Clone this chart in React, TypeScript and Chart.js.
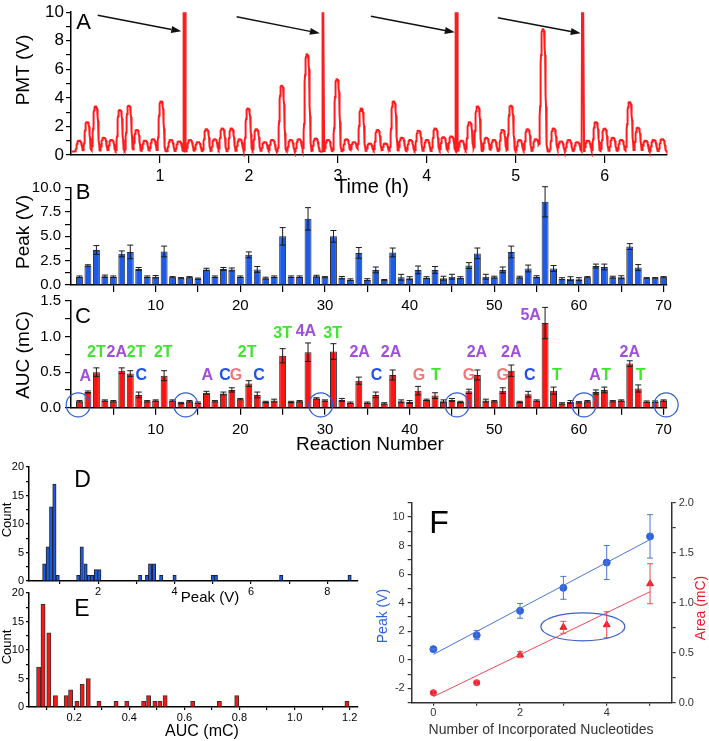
import React, { useEffect, useRef } from 'react';
import { Chart, registerables } from 'chart.js';
Chart.register(...registerables);

const FONT = '"Liberation Sans", Arial, Helvetica, sans-serif';

// ---------- Panel A: PMT trace ----------
const peakTimes = [0.093,0.183,0.278,0.371,0.457,0.551,0.652,0.742,0.835,0.925,1.015,1.124,1.217,
  1.340,1.430,1.525,1.618,1.704,1.806,1.899,1.992,2.087,2.180,2.266,2.371,2.472,2.565,2.655,2.753,
  2.891,2.992,3.098,3.183,3.266,3.360,3.449,3.536,3.629,3.722,3.817,3.910,4.003,4.098,4.188,4.278,
  4.393,4.483,4.573,4.671,4.756,4.854,4.947,5.045,5.135,5.228,5.307,5.427,5.509,5.599,5.693,
  5.812,5.902,6.000,6.093,6.188,6.281,6.374,6.461,6.553,6.648];
const peakHeightsA = [1.0,2.3,3.4,1.2,1.05,3.15,3.45,1.75,1.0,1.1,3.75,1.05,0.95,
  1.05,0.9,1.8,1.1,1.85,1.85,1.1,3.25,1.8,0.9,1.05,4.85,1.05,1.1,7.05,1.15,
  1.05,5.3,1.1,0.9,3.25,0.8,1.75,0.8,3.75,1.2,1.05,1.7,1.05,1.85,1.25,1.3,
  1.0,2.3,3.4,1.2,1.05,1.75,3.45,1.05,1.8,1.1,8.8,1.85,0.95,1.05,0.9,
  1.0,2.3,1.85,1.2,1.05,3.7,1.9,1.0,1.05,1.1];
const spikeTimes = [1.273, 2.835, 4.334, 5.756];
const baselineV = 0.25;
const arrowTailT = [0.30, 1.862, 3.371, 4.798];
const arrowTailV = [9.78, 9.68, 9.72, 9.61];
const arrowHeadT = [1.24, 2.798, 4.315, 5.73];
const arrowHeadV = [8.66, 8.52, 8.59, 8.52];
const timeTicks = [1, 2, 3, 4, 5, 6];

// ---------- Panels B, C ----------
const reactions = Array.from({ length: 70 }, (_, i) => i + 1);
const peakV = [0.85,2.0,3.6,0.9,0.85,3.2,3.4,1.65,0.85,0.85, 3.45,0.8,0.7,0.8,0.65,1.6,0.85,1.65,1.6,0.85,
  3.1,1.6,0.7,0.85,5.0,0.85,0.85,6.8,0.9,0.8, 5.0,0.75,0.55,3.3,0.55,1.55,0.5,3.35,0.8,0.7,
  1.55,0.75,1.55,0.7,0.85,0.75,2.0,3.25,0.85,0.8, 1.55,3.4,0.8,1.7,0.85,8.55,1.7,0.65,0.65,0.6,
  0.8,1.95,1.85,0.8,0.8,3.95,1.8,0.7,0.7,0.8];
const peakErr = [0.08,0.08,0.45,0.12,0.08,0.3,0.7,0.15,0.08,0.12, 0.55,0.06,0.06,0.06,0.06,0.12,0.08,0.15,0.15,0.08,
  0.3,0.3,0.1,0.08,0.9,0.08,0.08,1.15,0.1,0.06, 0.6,0.12,0.08,0.55,0.1,0.3,0.06,0.45,0.3,0.15,
  0.4,0.1,0.35,0.2,0.25,0.1,0.3,0.55,0.25,0.1, 0.3,0.6,0.1,0.35,0.1,1.55,0.3,0.1,0.2,0.15,
  0.06,0.2,0.3,0.1,0.15,0.3,0.3,0.06,0.06,0.06];
const aucC = [0.09,0.22,0.5,0.1,0.09,0.52,0.48,0.18,0.09,0.1, 0.45,0.1,0.065,0.09,0.07,0.21,0.09,0.2,0.25,0.12,
  0.34,0.18,0.08,0.1,0.73,0.08,0.09,0.78,0.13,0.1, 0.79,0.11,0.07,0.38,0.07,0.18,0.06,0.46,0.09,0.08,
  0.24,0.11,0.17,0.09,0.11,0.08,0.23,0.46,0.1,0.09, 0.24,0.52,0.08,0.19,0.1,1.19,0.24,0.06,0.08,0.075,
  0.09,0.22,0.25,0.09,0.1,0.62,0.27,0.085,0.085,0.1];
const aucErr = [0.01,0.015,0.06,0.01,0.01,0.04,0.04,0.04,0.01,0.01, 0.07,0.01,0.01,0.01,0.01,0.02,0.01,0.02,0.03,0.01,
  0.04,0.04,0.01,0.02,0.1,0.01,0.01,0.13,0.01,0.01, 0.11,0.02,0.01,0.05,0.01,0.04,0.01,0.07,0.02,0.02,
  0.06,0.01,0.04,0.02,0.02,0.01,0.03,0.07,0.02,0.01, 0.04,0.08,0.01,0.04,0.01,0.22,0.05,0.01,0.02,0.01,
  0.01,0.03,0.04,0.01,0.01,0.04,0.05,0.01,0.01,0.01];
const baseLabelRx = [1.7,3.0,5.4,7.7,8.3,10.9,16.1,18.2,19.5,20.8,22.2,25,27.75,30.9,34.1,36.1,37.8,41.1,43.1,47,47.95,51,52,54.2,54.3,57.4,61.9,63.2,66,67.3];
const baseLabelText = ['A','2T','2A','2T','C','2T','A','C','G','2T','C','3T','4A','3T','2A','C','2A','G','T','G','2A','G','2A','C','5A','T','A','T','2A','T'];
const baseLabelY = [0.44,0.77,0.77,0.77,0.45,0.77,0.45,0.45,0.45,0.77,0.45,1.04,1.07,1.04,0.77,0.45,0.77,0.45,0.45,0.45,0.77,0.45,0.77,0.45,1.3,0.45,0.45,0.45,0.77,0.45];
const circleRx = [0.85, 13.55, 29.5, 45.6, 60.6, 70.3];
const circleV = 0.04;
const baseColors: Record<string, string> = { A: '#a04fdc', T: '#3ee62e', C: '#1f52e6', G: '#f27878' };

// ---------- Panels D, E (histograms) ----------
const peakBins = [0.59,0.68,0.77,0.855,0.94,1.48,1.57,1.67,1.76,1.84,1.94,2.03,3.1,3.28,3.36,3.46,3.65,4.0,5.0,5.08,6.79,8.58];
const peakCounts = [3,6,13,17,1,1,6,3,1,1,2,2,1,1,3,3,1,1,1,1,1,1];
const aucBins = [0.071,0.087,0.108,0.132,0.171,0.187,0.21,0.229,0.251,0.29,0.352,0.391,0.452,0.47,0.493,0.511,0.53,0.63,0.727,0.79,1.19];
const aucCounts = [7,18,13,2,2,3,1,4,5,1,1,1,1,2,1,1,2,1,1,2,1];

// ---------- Panel F ----------
const nucleotides = [0, 1, 2, 3, 4, 5];
const fPeak = [0.75, 1.73, 3.43, 5.04, 6.81, 8.64];
const fPeakErr = [0.05, 0.32, 0.52, 0.8, 1.19, 1.52];
const fArea = [0.1, 0.2, 0.48, 0.754, 0.78, 1.19];
const fAreaErr = [0.02, 0.02, 0.03, 0.06, 0.13, 0.2];
const fitX = [0, 5];
const fitPeak = [0.38, 8.42];
const fitArea = [0.06, 1.11];
const ellipseCenter = [3.45, 2.31];

// ---------- helpers ----------
type TextItem = { t: string; x: number; y: number; size: number; color?: string; bold?: boolean; rot?: number };
const ROT = -Math.PI / 2;

function textPlugin(items: TextItem[], left: number, top: number) {
  return {
    id: 'pageTexts',
    afterDraw(chart: any) {
      const ctx = chart.ctx as CanvasRenderingContext2D;
      items.forEach((it) => {
        ctx.save();
        ctx.translate(it.x - left, it.y - top);
        if (it.rot) ctx.rotate(it.rot);
        ctx.font = `${it.bold ? 'bold ' : ''}${it.size}px ${FONT}`;
        ctx.fillStyle = it.color || '#000';
        ctx.textAlign = 'center';
        ctx.textBaseline = 'middle';
        ctx.fillText(it.t, 0, 0);
        ctx.restore();
      });
    },
  };
}

const errorBarPlugin = {
  id: 'errbars',
  afterDatasetsDraw(chart: any) {
    const ctx = chart.ctx as CanvasRenderingContext2D;
    chart.data.datasets.forEach((ds: any, di: number) => {
      if (!ds.errors) return;
      const meta = chart.getDatasetMeta(di);
      const ys = chart.scales[meta.yAxisID];
      meta.data.forEach((el: any, i: number) => {
        const e = ds.errors[i];
        if (!e) return;
        const d = ds.data[i];
        const v = typeof d === 'number' ? d : d.y;
        const x = el.x;
        const yt = ys.getPixelForValue(v + e);
        const yb = ys.getPixelForValue(Math.max(v - e, ys.min));
        const cap = ds.errorCap || 3;
        ctx.save();
        ctx.strokeStyle = ds.errorColor || '#222';
        ctx.lineWidth = 1;
        ctx.beginPath();
        ctx.moveTo(x, yt); ctx.lineTo(x, yb);
        ctx.moveTo(x - cap, yt); ctx.lineTo(x + cap, yt);
        ctx.moveTo(x - cap, yb); ctx.lineTo(x + cap, yb);
        ctx.stroke();
        ctx.restore();
      });
    });
  },
};

const range = (a: number, b: number, step: number) => {
  const out: number[] = [];
  const n = Math.round((b - a) / step);
  for (let k = 0; k <= n; k++) out.push(Math.round((a + k * step) * 10000) / 10000);
  return out;
};
const isMult = (v: number, m: number) => Math.abs(v / m - Math.round(v / m)) < 1e-6;

function axis(o: { pos: string; min: number; max: number; ticks: number[]; label: (v: number) => string; size: number; tickLen: number; pad: number; color?: string; w?: number; h?: number }) {
  const color = o.color || '#000';
  return {
    type: 'linear',
    position: o.pos,
    min: o.min,
    max: o.max,
    offset: false,
    afterBuildTicks: (s: any) => { s.ticks = o.ticks.map((v) => ({ value: v })); },
    afterFit: (s: any) => {
      if (o.w !== undefined) s.width = o.w;
      if (o.h !== undefined) s.height = o.h;
    },
    border: { display: true, color, width: 1.5 },
    grid: { display: true, drawOnChartArea: false, drawTicks: true, tickLength: o.tickLen, color, lineWidth: 1.2, offset: false },
    ticks: { color, font: { family: FONT, size: o.size }, padding: o.pad, autoSkip: false, maxRotation: 0, minRotation: 0, callback: (v: any) => o.label(Number(v)) },
  };
}

const baseOpts = (padding: any) => ({
  animation: false,
  responsive: false,
  maintainAspectRatio: false,
  events: [],
  layout: { padding },
  plugins: { legend: { display: false }, tooltip: { enabled: false } },
});

// ---------- builders ----------
function buildA(left: number, top: number) {
  const W = 0.033;
  const trace: { x: number; y: number }[] = [];
  for (let k = 0; k <= 3350; k++) {
    const t = k * 0.002;
    let y = baselineV;
    peakTimes.forEach((pt, i) => {
      const d = (t - pt) / W;
      if (Math.abs(d) < 3) y += (peakHeightsA[i] - baselineV) * Math.exp(-d * d * d * d);
    });
    if (spikeTimes.some((s) => Math.abs(t - s) <= 0.0105)) y = 12;
    trace.push({ x: t, y });
  }
  const arrowPlugin = {
    id: 'arrows',
    afterDatasetsDraw(chart: any) {
      const xs = chart.scales.x, ys = chart.scales.y;
      const ctx = chart.ctx as CanvasRenderingContext2D;
      arrowTailT.forEach((tt, i) => {
        const x1 = xs.getPixelForValue(tt), y1 = ys.getPixelForValue(arrowTailV[i]);
        const x2 = xs.getPixelForValue(arrowHeadT[i]), y2 = ys.getPixelForValue(arrowHeadV[i]);
        const ang = Math.atan2(y2 - y1, x2 - x1);
        const L = 10, Wd = 3.5;
        const bx = x2 - L * Math.cos(ang), by = y2 - L * Math.sin(ang);
        ctx.save();
        ctx.strokeStyle = '#111'; ctx.fillStyle = '#111'; ctx.lineWidth = 1.5;
        ctx.beginPath(); ctx.moveTo(x1, y1); ctx.lineTo(bx, by); ctx.stroke();
        ctx.beginPath(); ctx.moveTo(x2, y2);
        ctx.lineTo(bx + Wd * Math.sin(ang), by - Wd * Math.cos(ang));
        ctx.lineTo(bx - Wd * Math.sin(ang), by + Wd * Math.cos(ang));
        ctx.closePath(); ctx.fill();
        ctx.restore();
      });
    },
  };
  return {
    type: 'line',
    data: { datasets: [{ data: trace, borderColor: '#ff1c1c', borderWidth: 2, pointRadius: 0, tension: 0, clip: { left: 2, right: 2, top: 0, bottom: 2 } }] },
    options: {
      ...baseOpts({ top: 7.5, right: 42, left: 0, bottom: 0 }),
      scales: {
        x: axis({ pos: 'bottom', min: 0, max: 6.7, ticks: timeTicks, label: (v) => String(v), size: 16, tickLen: 8, pad: 4, h: 45 }),
        y: axis({ pos: 'left', min: 0, max: 10, ticks: range(0, 10, 1), label: (v) => (isMult(v, 2) ? String(v) : ''), size: 17, tickLen: 5, pad: 2, w: 71 }),
      },
    },
    plugins: [arrowPlugin, textPlugin([
      { t: 'A', x: 83.5, y: 23, size: 22 },
      { t: 'PMT (V)', x: 24, y: 70, size: 19, rot: ROT },
      { t: 'Time (h)', x: 372, y: 187, size: 20 },
    ], left, top)],
  };
}

function buildB(left: number, top: number) {
  return {
    type: 'bar',
    data: { datasets: [{ data: reactions.map((r, i) => ({ x: r, y: peakV[i] })), backgroundColor: '#1d5be6', borderColor: '#2b2b2b', borderWidth: 1, barPercentage: 0.82, categoryPercentage: 1, errors: peakErr, errorColor: '#1a1a1a', errorCap: 3 }] },
    options: {
      ...baseOpts({ top: 27.7, right: 42, left: 0, bottom: 0 }),
      scales: {
        x: axis({ pos: 'bottom', min: 0, max: 70.4, ticks: range(5, 70, 5), label: (v) => (isMult(v, 10) ? String(v) : ''), size: 15, tickLen: 7, pad: 5, h: 35 }),
        y: axis({ pos: 'left', min: 0, max: 10, ticks: range(0, 10, 1.25), label: (v) => (isMult(v, 2.5) ? v.toFixed(1) : ''), size: 15, tickLen: 6, pad: 4, w: 71 }),
      },
    },
    plugins: [errorBarPlugin, textPlugin([
      { t: 'B', x: 83, y: 193, size: 22 },
      { t: 'Peak (V)', x: 24, y: 232, size: 19, rot: ROT },
    ], left, top)],
  };
}

function buildC(left: number, top: number) {
  const annot = {
    id: 'cAnnot',
    afterDatasetsDraw(chart: any) {
      const xs = chart.scales.x, ys = chart.scales.y;
      const ctx = chart.ctx as CanvasRenderingContext2D;
      ctx.save();
      ctx.strokeStyle = '#2a5bd7'; ctx.lineWidth = 1.2;
      circleRx.forEach((rx) => {
        ctx.beginPath();
        ctx.arc(xs.getPixelForValue(rx), ys.getPixelForValue(circleV), 12, 0, Math.PI * 2);
        ctx.stroke();
      });
      ctx.font = `bold 16px ${FONT}`;
      ctx.textAlign = 'center'; ctx.textBaseline = 'middle';
      baseLabelText.forEach((t, i) => {
        ctx.fillStyle = baseColors[t[t.length - 1]];
        ctx.fillText(t, xs.getPixelForValue(baseLabelRx[i]), ys.getPixelForValue(baseLabelY[i]));
      });
      ctx.restore();
    },
  };
  return {
    type: 'bar',
    data: { datasets: [{ data: reactions.map((r, i) => ({ x: r, y: aucC[i] })), backgroundColor: '#ff1414', borderColor: '#2b2b2b', borderWidth: 1, barPercentage: 0.82, categoryPercentage: 1, errors: aucErr, errorColor: '#1a1a1a', errorCap: 3 }] },
    options: {
      ...baseOpts({ top: 16, right: 42, left: 0, bottom: 0 }),
      scales: {
        x: axis({ pos: 'bottom', min: 0, max: 70.4, ticks: range(5, 70, 5), label: (v) => (isMult(v, 10) ? String(v) : ''), size: 15, tickLen: 7, pad: 6, h: 47.3 }),
        y: axis({ pos: 'left', min: 0, max: 1.5, ticks: range(0, 1.5, 0.25), label: (v) => (isMult(v, 0.5) ? v.toFixed(1) : ''), size: 15, tickLen: 6, pad: 4, w: 71 }),
      },
    },
    plugins: [errorBarPlugin, annot, textPlugin([
      { t: 'C', x: 83, y: 317, size: 22 },
      { t: 'AUC (mC)', x: 24, y: 355, size: 19, rot: ROT },
      { t: 'Reaction Number', x: 370, y: 445, size: 19 },
    ], left, top)],
  };
}

function buildD(left: number, top: number) {
  return {
    type: 'bar',
    data: { datasets: [{ data: peakBins.map((b, i) => ({ x: b, y: peakCounts[i] })), backgroundColor: '#1d5be6', borderColor: '#222', borderWidth: 1, barThickness: 3.4 }] },
    options: {
      ...baseOpts({ top: 27, right: 12, left: 0, bottom: 29 }),
      scales: {
        x: axis({ pos: 'bottom', min: 0.19, max: 8.8, ticks: range(1, 8, 1), label: (v) => (isMult(v, 2) ? String(v) : ''), size: 11, tickLen: 3, pad: 1, h: 19 }),
        y: axis({ pos: 'left', min: 0, max: 20, ticks: range(0, 20, 2.5), label: (v) => (isMult(v, 5) ? String(v) : ''), size: 11, tickLen: 3, pad: 2, w: 29 }),
      },
    },
    plugins: [textPlugin([
      { t: 'D', x: 82.5, y: 481, size: 23 },
      { t: 'Count', x: 7, y: 520, size: 13, rot: ROT },
      { t: 'Peak (V)', x: 210, y: 598, size: 15 },
    ], left, top)],
  };
}

function buildE(left: number, top: number) {
  return {
    type: 'bar',
    data: { datasets: [{ data: aucBins.map((b, i) => ({ x: b, y: aucCounts[i] })), backgroundColor: '#ff1414', borderColor: '#333', borderWidth: 1, barThickness: 4.2 }] },
    options: {
      ...baseOpts({ top: 13, right: 12, left: 0, bottom: 0 }),
      scales: {
        x: axis({ pos: 'bottom', min: 0.036, max: 1.23, ticks: range(0.1, 1.2, 0.1), label: (v) => (isMult(v, 0.2) ? v.toFixed(1) : ''), size: 11, tickLen: 3, pad: 1, h: 34 }),
        y: axis({ pos: 'left', min: 0, max: 20, ticks: range(0, 20, 2.5), label: (v) => (isMult(v, 5) ? String(v) : ''), size: 11, tickLen: 3, pad: 2, w: 29 }),
      },
    },
    plugins: [textPlugin([
      { t: 'E', x: 82, y: 610, size: 23 },
      { t: 'Count', x: 7, y: 647, size: 13, rot: ROT },
      { t: 'AUC (mC)', x: 202, y: 732, size: 16 },
    ], left, top)],
  };
}

function buildF(left: number, top: number) {
  const ellipse = {
    id: 'ellipse',
    afterDatasetsDraw(chart: any) {
      const xs = chart.scales.x, ys = chart.scales.y;
      const ctx = chart.ctx as CanvasRenderingContext2D;
      ctx.save();
      ctx.strokeStyle = '#3a62c8'; ctx.lineWidth = 1.2;
      ctx.beginPath();
      ctx.ellipse(xs.getPixelForValue(ellipseCenter[0]), ys.getPixelForValue(ellipseCenter[1]), 42, 14, 0, 0, Math.PI * 2);
      ctx.stroke();
      ctx.restore();
    },
  };
  const blue = '#2d63dc', red = '#ee1c2a';
  return {
    type: 'scatter',
    data: {
      datasets: [
        { data: fitX.map((x, i) => ({ x, y: fitPeak[i] })), showLine: true, borderColor: '#4a76d6', borderWidth: 1, pointRadius: 0, yAxisID: 'y' },
        { data: fitX.map((x, i) => ({ x, y: fitArea[i] })), showLine: true, borderColor: '#f04a55', borderWidth: 1, pointRadius: 0, yAxisID: 'y2' },
        { data: nucleotides.map((x, i) => ({ x, y: fPeak[i] })), pointStyle: 'circle', pointRadius: 3.5, backgroundColor: blue, borderColor: blue, yAxisID: 'y', errors: fPeakErr, errorColor: '#4a76d6', errorCap: 3 },
        { data: nucleotides.map((x, i) => ({ x, y: fArea[i] })), pointStyle: ['circle', 'circle', 'triangle', 'triangle', 'triangle', 'triangle'], pointRadius: [3, 3, 4, 4, 4, 4], backgroundColor: red, borderColor: red, yAxisID: 'y2', errors: fAreaErr, errorColor: '#f04a55', errorCap: 3 },
      ],
    },
    options: {
      ...baseOpts({ top: 22.7, right: 0, left: 0, bottom: 0 }),
      scales: {
        x: axis({ pos: 'bottom', min: -0.5, max: 5.5, ticks: range(0, 5, 1), label: (v) => (isMult(v, 2) ? String(v) : ''), size: 11, tickLen: 3, pad: 1, color: '#333', h: 38.3 }),
        y: axis({ pos: 'left', min: -3, max: 11, ticks: range(-3, 11, 1), label: (v) => (isMult(v, 2) ? String(v) : ''), size: 11, tickLen: 4, pad: 3, color: '#333', w: 41.7 }),
        y2: axis({ pos: 'right', min: 0, max: 2, ticks: range(0, 2, 0.25), label: (v) => (isMult(v, 0.5) ? v.toFixed(1) : ''), size: 11, tickLen: 4, pad: 3, color: '#333', w: 37.3 }),
      },
    },
    plugins: [errorBarPlugin, ellipse, textPlugin([
      { t: 'F', x: 439, y: 524, size: 32 },
      { t: 'Peak (V)', x: 383, y: 616, size: 14, color: blue, rot: ROT },
      { t: 'Area (mC)', x: 701, y: 608, size: 14, color: red, rot: ROT },
      { t: 'Number of Incorporated Nucleotides', x: 541, y: 730, size: 14, color: '#333' },
    ], left, top)],
  };
}

function Panel({ left, top, width, height, build }: { left: number; top: number; width: number; height: number; build: (l: number, t: number) => any }) {
  const ref = useRef<HTMLCanvasElement>(null);
  useEffect(() => {
    const chart = new Chart(ref.current as HTMLCanvasElement, build(left, top));
    return () => chart.destroy();
  }, []);
  return <canvas ref={ref} width={width} height={height} style={{ position: 'absolute', left, top, width, height }} />;
}

export default function App() {
  return (
    <div style={{ position: 'absolute', left: 0, top: 0, width: 709, height: 741, background: '#fff', overflow: 'hidden' }}>
      <Panel left={0} top={0} width={709} height={200} build={buildA} />
      <Panel left={0} top={160} width={709} height={160} build={buildB} />
      <Panel left={0} top={285} width={709} height={170} build={buildC} />
      <Panel left={0} top={580} width={370} height={161} build={buildE} />
      <Panel left={0} top={440} width={370} height={189} build={buildD} />
      <Panel left={370} top={480} width={339} height={261} build={buildF} />
    </div>
  );
}
